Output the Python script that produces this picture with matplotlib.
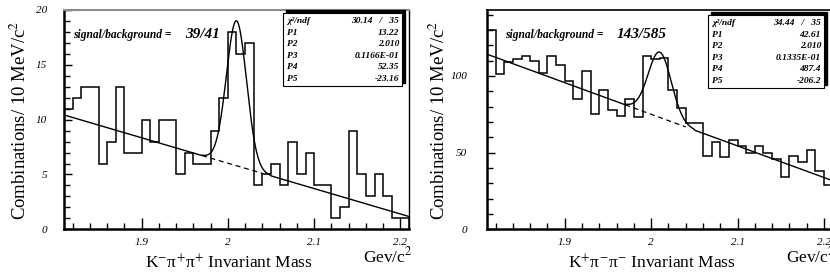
import numpy as np
import matplotlib
matplotlib.use("Agg")
import matplotlib.pyplot as plt
from matplotlib.patches import Rectangle

plt.rcParams['font.family'] = ['Liberation Serif', 'DejaVu Serif']
plt.rcParams['mathtext.fontset'] = 'stix'

# bin edges: 10 MeV bins from 1.81 to 2.21 GeV
bin_lo, bin_hi, n_bins = 1.81, 2.21, 40

# K- pi+ pi+ histogram (left)
counts_left = [11, 12, 13, 13, 6, 8, 13, 7, 7, 10,
               8, 10, 10, 5, 7, 6, 6, 9, 12, 18,
               16, 17, 4, 5, 6, 4, 8, 5, 7, 4,
               4, 1, 2, 9, 5, 3, 5, 3, 1, 1]
# K+ pi- pi- histogram (right)
counts_right = [130, 101, 109, 111, 113, 110, 102, 113, 107, 97,
                85, 103, 75, 91, 78, 74, 85, 73, 113, 111,
                112, 91, 79, 69, 69, 48, 57, 47, 58, 54,
                50, 54, 50, 46, 34, 48, 44, 52, 38, 29]

# fit parameters: gaussian (P1, P2, P3) + linear (P4, P5)
fit_left = [13.22, 2.010, 0.01166, 52.35, -23.16]
fit_right = [42.61, 2.010, 0.01335, 487.4, -206.2]
fit_left_txt = ["13.22", "2.010", "0.1166E-01", "52.35", "-23.16"]
fit_right_txt = ["42.61", "2.010", "0.1335E-01", "487.4", "-206.2"]
chi2_left = "30.14   /   35"
chi2_right = "34.44   /   35"
sb_left = "39/41"
sb_right = "143/585"

W, H = 830, 277
fig = plt.figure(figsize=(8.3, 2.77), dpi=100)


def fx(px):
    return px / W


def fy(py):
    return 1 - py / H


def panel(left_px, right_px, counts, fit, fit_txt, chi2, sb, ymax, yticks_major,
          yminor, xlab, ypad, ylab_off, box, sb_x, gray_top):
    ax = fig.add_axes([fx(left_px), fy(229.3), fx(right_px - left_px), (229.3 - 10) / H])
    edges = np.linspace(bin_lo, bin_hi, n_bins + 1)
    ax.stairs(counts, edges, color='black', lw=1.1)

    p1, p2, p3, p4, p5 = fit
    x = np.linspace(bin_lo, bin_hi, 800)
    lin = p4 + p5 * x
    tot = lin + p1 * np.exp(-0.5 * ((x - p2) / p3) ** 2)
    win = (x >= 1.97) & (x <= 2.05)
    y = np.where(win, tot, lin)
    ax.plot(x, y, color='black', lw=1.0)
    xd = np.linspace(1.97, 2.04, 50)
    ax.plot(xd, p4 + p5 * xd, color='black', lw=0.9, dashes=(4, 3))

    ax.set_xlim(bin_lo, bin_hi)
    ax.set_ylim(0, ymax)
    ax.set_xticks([1.9, 2.0, 2.1, 2.2])
    ax.set_xticklabels(["1.9", "2", "2.1", "2.2"])
    ax.set_xticks(np.arange(1.82, 2.21, 0.02), minor=True)
    ax.set_yticks(yticks_major)
    ax.set_yticks(yminor, minor=True)
    ax.tick_params(which='major', direction='in', length=8, width=1.0, labelsize=8)
    ax.tick_params(which='minor', direction='in', length=4.5, width=1.0)
    ax.tick_params(axis='y', which='major', length=6, pad=ypad)
    ax.tick_params(axis='x', which='major', pad=6)
    for lab in ax.get_xticklabels() + ax.get_yticklabels():
        lab.set_fontstyle('italic')
    for s in ['left', 'bottom']:
        ax.spines[s].set_linewidth(1.8)
    ax.spines['right'].set_linewidth(1.0)
    if gray_top:
        ax.spines['top'].set_color('0.55')
        ax.spines['top'].set_linewidth(1.5)
    else:
        ax.spines['top'].set_linewidth(1.2)

    # axis titles
    fig.text(fx(left_px - ylab_off), fy(120), "Combinations/ 10 MeV/c$^{2}$", rotation=90,
             ha='center', va='center', fontsize=13.5)
    fig.text(fx(left_px + 165), fy(263), xlab, ha='center', va='center', fontsize=12.5)
    fig.text(fx(left_px + 299), fy(256), "Gev/c$^{2}$", ha='left', va='center', fontsize=12.5)

    # signal/background
    fig.text(fx(sb_x), fy(35), "signal/background =", ha='left', va='center',
             fontsize=8.3, fontweight='bold', fontstyle='italic')
    fig.text(fx(sb_x + 112), fy(34), sb, ha='left', va='center',
             fontsize=11, fontweight='bold', fontstyle='italic')

    # stats box with shadow
    bl, bt, br, bb = box
    fig.patches.append(Rectangle((fx(bl + 3), fy(bb - 3)), fx(br - bl), (bb - bt) / H,
                                 transform=fig.transFigure, facecolor='black',
                                 edgecolor='black', zorder=5))
    fig.patches.append(Rectangle((fx(bl), fy(bb)), fx(br - bl), (bb - bt) / H,
                                 transform=fig.transFigure, facecolor='white',
                                 edgecolor='black', lw=0.8, zorder=6))
    names = ["χ²/ndf", "P1", "P2", "P3", "P4", "P5"]
    vals = [chi2] + fit_txt
    for i, (n, v) in enumerate(zip(names, vals)):
        yy = fy(bt + 8 + i * 11.6)
        fig.text(fx(bl + 4), yy, n, ha='left', va='center', fontsize=6.8,
                 fontweight='bold', fontstyle='italic', zorder=7)
        fig.text(fx(br - 3), yy, v, ha='right', va='center', fontsize=6.8,
                 fontweight='bold', fontstyle='italic', zorder=7)
    return ax


panel(64, 409, counts_left, fit_left, fit_left_txt, chi2_left, sb_left, 20,
      [0, 5, 10, 15, 20], np.arange(0, 21, 1),
      "K$^{-}$π$^{+}$π$^{+}$ Invariant Mass", 12, 44, (283, 13, 402, 86), 73, True)
panel(487, 832.6, counts_right, fit_right, fit_right_txt, chi2_right, sb_right, 143,
      [0, 50, 100], np.arange(0, 141, 10),
      "K$^{+}$π$^{-}$π$^{-}$ Invariant Mass", 14, 48, (708, 15, 824, 88), 505, False)

fig.savefig("out.png", dpi=100)
